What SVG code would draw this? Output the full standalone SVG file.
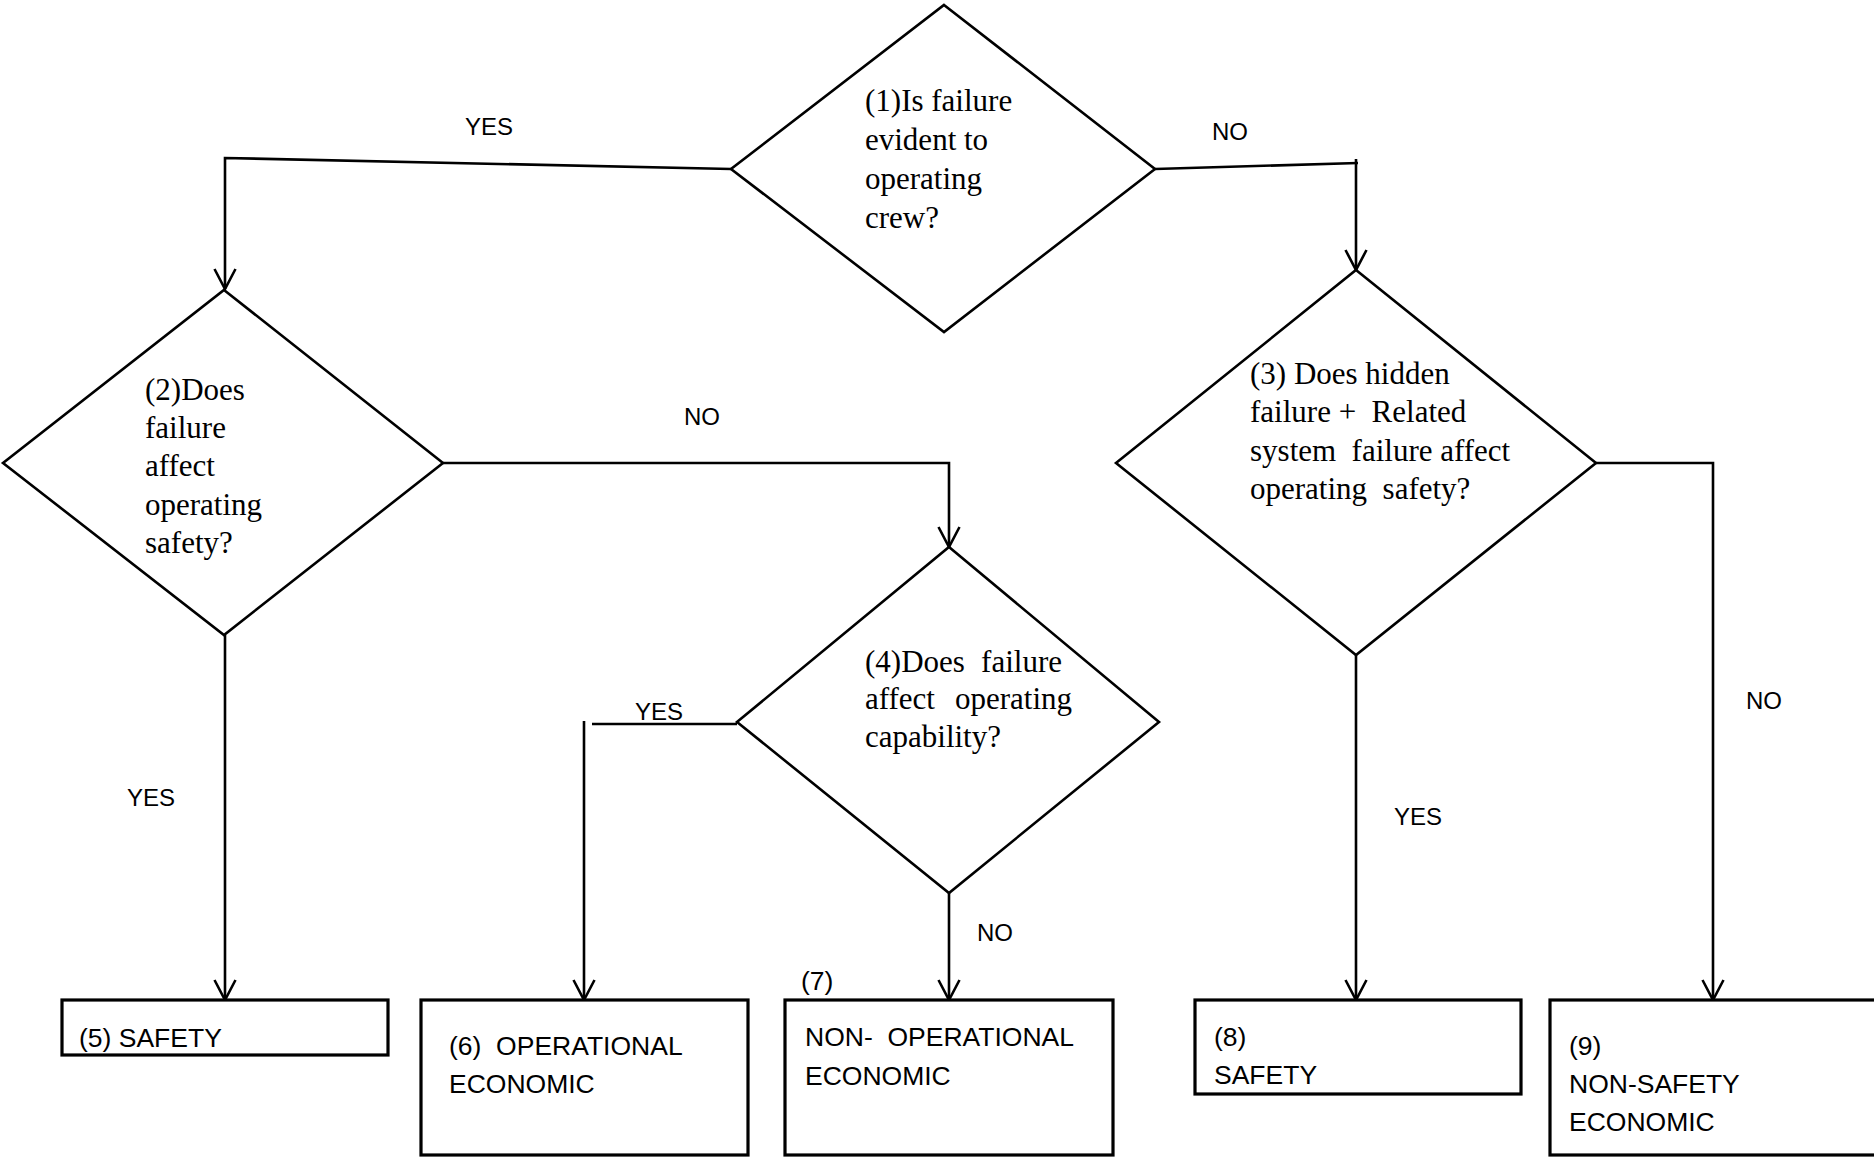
<svg xmlns="http://www.w3.org/2000/svg" width="1874" height="1167" viewBox="0 0 1874 1167">
  <style>
    .shape { fill: #ffffff; stroke: #000000; stroke-width: 2.6; stroke-linejoin: miter; }
    .box { fill: #ffffff; stroke: #000000; stroke-width: 3.2; }
    .link { fill: none; stroke: #000000; stroke-width: 2.6; }
    .q { font-family: "Liberation Serif", "Times New Roman", serif; font-size: 31px; fill: #000000; }
    .t { font-family: "Liberation Sans", Arial, sans-serif; font-size: 26.5px; fill: #000000; }
    .lbl { font-family: "Liberation Sans", Arial, sans-serif; font-size: 24px; fill: #000000; }
  </style>
  <defs>
    <marker id="arrow" markerUnits="userSpaceOnUse" viewBox="-22 -12 24 24" refX="0" refY="0" markerWidth="24" markerHeight="24" orient="auto">
      <path d="M-20,-10.5 L0,0 L-20,10.5" fill="none" stroke="#000000" stroke-width="2.6"/>
    </marker>
  </defs>

  <rect x="0" y="0" width="1874" height="1167" fill="#ffffff"/>

  <!-- connectors -->
  <g id="connectors">
    <polyline class="link" points="731,169 225,158 225,289" marker-end="url(#arrow)"/>
    <polyline class="link" points="1155,169 1358,163"/>
    <line class="link" x1="1356" y1="159" x2="1356" y2="270" marker-end="url(#arrow)"/>
    <polyline class="link" points="443,463 949,463 949,547" marker-end="url(#arrow)"/>
    <line class="link" x1="225" y1="635" x2="225" y2="1000" marker-end="url(#arrow)"/>
    <line class="link" x1="1356" y1="655" x2="1356" y2="1000" marker-end="url(#arrow)"/>
    <polyline class="link" points="1596,463 1713,463 1713,1000" marker-end="url(#arrow)"/>
    <line class="link" x1="737" y1="724" x2="592" y2="724"/>
    <line class="link" x1="584" y1="721" x2="584" y2="1000" marker-end="url(#arrow)"/>
    <line class="link" x1="949" y1="893" x2="949" y2="1000" marker-end="url(#arrow)"/>

    <text class="lbl" x="465" y="135">YES</text>
    <text class="lbl" x="1212" y="140">NO</text>
    <text class="lbl" x="684" y="425">NO</text>
    <text class="lbl" x="127" y="806">YES</text>
    <text class="lbl" x="635" y="720">YES</text>
    <text class="lbl" x="977" y="941">NO</text>
    <text class="lbl" x="1394" y="825">YES</text>
    <text class="lbl" x="1746" y="709">NO</text>
  </g>

  <!-- decision 1 -->
  <g id="q1">
    <polygon class="shape" points="944,5 1155,169 944,332 731,169"/>
    <text class="q" x="865" y="111">(1)Is failure</text>
    <text class="q" x="865" y="150">evident to</text>
    <text class="q" x="865" y="189">operating</text>
    <text class="q" x="865" y="228">crew?</text>
  </g>

  <!-- decision 2 -->
  <g id="q2">
    <polygon class="shape" points="224,290 443,463 224,635 3,463"/>
    <text class="q" x="145" y="400">(2)Does</text>
    <text class="q" x="145" y="438">failure</text>
    <text class="q" x="145" y="476">affect</text>
    <text class="q" x="145" y="515">operating</text>
    <text class="q" x="145" y="553">safety?</text>
  </g>

  <!-- decision 3 -->
  <g id="q3">
    <polygon class="shape" points="1356,270 1596,463 1356,655 1116,463"/>
    <text class="q" x="1250" y="384" xml:space="preserve">(3) Does hidden</text>
    <text class="q" x="1250" y="422" xml:space="preserve">failure +  Related</text>
    <text class="q" x="1250" y="461" xml:space="preserve">system  failure affect</text>
    <text class="q" x="1250" y="499" xml:space="preserve">operating  safety?</text>
  </g>

  <!-- decision 4 -->
  <g id="q4">
    <polygon class="shape" points="949,547 1159,722 949,893 737,722"/>
    <text class="q" x="865" y="672">(4)Does</text>
    <text class="q" x="1062" y="672" text-anchor="end">failure</text>
    <text class="q" x="865" y="709">affect</text>
    <text class="q" x="1072" y="709" text-anchor="end">operating</text>
    <text class="q" x="865" y="747">capability?</text>
  </g>

  <!-- outcomes -->
  <g id="r5">
    <rect class="box" x="62" y="1000" width="326" height="55"/>
    <text class="t" x="79" y="1047">(5) SAFETY</text>
  </g>
  <g id="r6">
    <rect class="box" x="421" y="1000" width="327" height="155"/>
    <text class="t" x="449" y="1055" xml:space="preserve">(6)  OPERATIONAL</text>
    <text class="t" x="449" y="1093">ECONOMIC</text>
  </g>
  <g id="r7">
    <text class="t" x="801" y="990">(7)</text>
    <rect class="box" x="785" y="1000" width="328" height="155"/>
    <text class="t" x="805" y="1046" xml:space="preserve">NON-  OPERATIONAL</text>
    <text class="t" x="805" y="1085">ECONOMIC</text>
  </g>
  <g id="r8">
    <rect class="box" x="1195" y="1000" width="326" height="94"/>
    <text class="t" x="1214" y="1046">(8)</text>
    <text class="t" x="1214" y="1084">SAFETY</text>
  </g>
  <g id="r9">
    <rect class="box" x="1550" y="1000" width="340" height="155"/>
    <text class="t" x="1569" y="1055">(9)</text>
    <text class="t" x="1569" y="1093">NON-SAFETY</text>
    <text class="t" x="1569" y="1131">ECONOMIC</text>
  </g>
</svg>
